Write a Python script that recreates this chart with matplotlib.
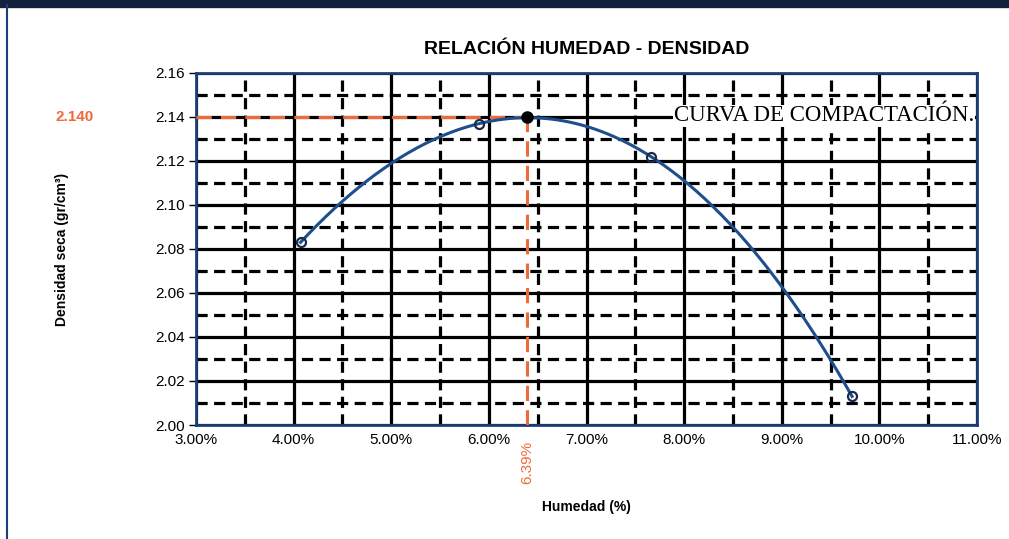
import numpy as np
import matplotlib.pyplot as plt
from matplotlib.ticker import MultipleLocator, FuncFormatter
from matplotlib.lines import Line2D

# ensayo proctor: humedad (%) vs densidad seca (gr/cm3)
humedad = [4.07, 5.90, 7.66, 9.72]
densidad = [2.083, 2.137, 2.122, 2.013]

# optimo
w_opt = 6.39
d_max = 2.140

x_ticks = [3, 4, 5, 6, 7, 8, 9, 10, 11]
y_ticks = [2.00, 2.02, 2.04, 2.06, 2.08, 2.10, 2.12, 2.14, 2.16]

naranja = '#ef6a3a'
azul = '#1f4e8c'
marco = '#1c3f78'

plt.rcParams['font.family'] = ['Liberation Sans', 'DejaVu Sans']

fig = plt.figure(figsize=(10.09, 5.39), dpi=100)
ax = fig.add_axes([0.1943, 0.2115, 0.774, 0.6531])

# curva de ajuste (polinomio) sobre los puntos del ensayo
coef = np.polyfit(humedad, densidad, 3)
xs = np.linspace(min(humedad), max(humedad), 200)
ax.plot(xs, np.polyval(coef, xs), color=azul, lw=2.2, zorder=5)
ax.plot(humedad, densidad, 'o', mfc='none', mec='#1a2a4a', mew=1.6, ms=6.5, zorder=6)
ax.plot([w_opt], [d_max], 'o', color='black', ms=8, zorder=7)

# lineas al optimo
ax.plot([3, w_opt], [d_max, d_max], color=naranja, lw=2.2, ls=(0, (5, 3)), zorder=4)
ax.plot([w_opt, w_opt], [2.0, d_max], color=naranja, lw=2.2, ls=(0, (5, 3)), zorder=4)

ax.set_xlim(3, 11)
ax.set_ylim(2.0, 2.16)
ax.xaxis.set_major_locator(plt.FixedLocator(x_ticks))
ax.yaxis.set_major_locator(plt.FixedLocator(y_ticks))
ax.xaxis.set_minor_locator(MultipleLocator(0.5))
ax.yaxis.set_minor_locator(MultipleLocator(0.01))
ax.xaxis.set_major_formatter(FuncFormatter(lambda v, p: f'{v:.2f}%'))
ax.yaxis.set_major_formatter(FuncFormatter(lambda v, p: f'{v:.2f}'))
ax.grid(which='major', color='black', lw=2.3, ls='-', zorder=1)
ax.grid(which='minor', color='black', lw=2.3, ls=(0, (3.5, 2)), zorder=1)
ax.set_axisbelow(True)
ax.tick_params(which='major', length=5, width=1, labelsize=11, pad=3)
ax.tick_params(which='minor', length=0)
ax.tick_params(axis='x', length=0, pad=6)
for s in ax.spines.values():
    s.set_color(marco)
    s.set_linewidth(2)

ax.set_title('RELACIÓN HUMEDAD - DENSIDAD', fontsize=14, fontweight='bold', pad=14)
ax.set_xlabel('Humedad (%)', fontsize=10, fontweight='bold', labelpad=38)
ax.set_ylabel('Densidad seca (gr/cm³)', fontsize=10, fontweight='bold', labelpad=62)

ax.text(10.97, 2.1406, 'CURVA DE COMPACTACIÓN.', fontsize=16.5, family='Liberation Serif',
        ha='right', va='center', zorder=8,
        bbox=dict(facecolor='white', edgecolor='none', pad=0.3))

fig.text(55 / 1009, 1 - 117 / 539, '2.140', color=naranja, fontsize=11,
         fontweight='bold', ha='left', va='center')
fig.text(527 / 1009, 1 - 462 / 539, '6.39%', color=naranja, fontsize=11,
         rotation=90, ha='center', va='center')

# marco
fig.add_artist(Line2D([0, 1], [0.993, 0.993], transform=fig.transFigure, color='#14213d', lw=6))
fig.add_artist(Line2D([7 / 1009, 7 / 1009], [0, 0.99], transform=fig.transFigure, color=marco, lw=1.5))

fig.savefig('out.png', dpi=100)
